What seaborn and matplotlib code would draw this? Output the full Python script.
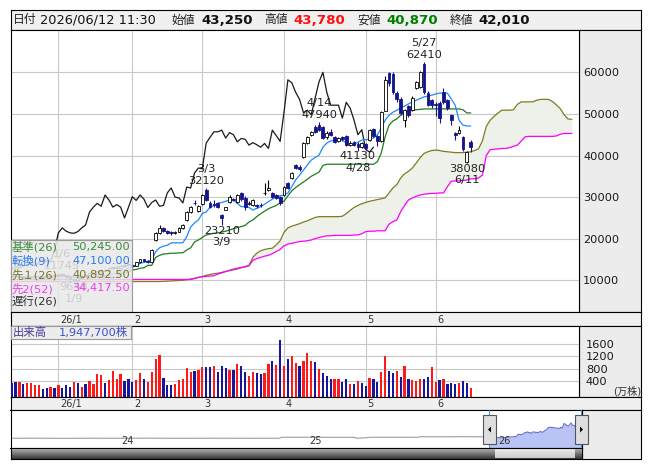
"""Daily candle chart with Ichimoku cloud, volume and a navigator strip (Japanese broker style)."""
import numpy as np
import matplotlib
matplotlib.use("Agg")
import matplotlib.pyplot as plt
from matplotlib.patches import Rectangle, Polygon
import seaborn as sns

# --- trading days 2025/12/15 .. 2026/06/12, index 0..118 ---
OPEN = [10900, 11000, 11100, 10700, 10500, 10700, 10900, 10800, 10600, 10800,
        10900, 11100, 11200, 11500, 11300, 10700, 10200, 10000, 10600, 11000,
        11300, 11700, 11600, 12200, 12400, 12300, 12900, 13100, 13000, 13500,
        13700, 13700, 13500, 14300, 15000, 14700, 14500, 19700, 21400, 22600,
        21900, 21600, 21300, 21700, 22600, 24500, 26400, 28700, 26600, 28400,
        31700, 28600, 28400, 28600, 25700, 27000, 28900, 29600, 28900, 31000,
        29800, 28300, 28100, 28000, 28200, 30900, 31800, 31000, 30500, 30000,
        30500, 33400, 34600, 37700, 37200, 39600, 43000, 44900, 46900, 47300,
        46900, 44500, 45600, 44400, 43500, 44400, 44700, 42600, 43300, 42800,
        42100, 42800, 43800, 46300, 44700, 43400, 50800, 59800, 59500, 55000,
        53600, 48500, 51800, 51000, 56200, 56500, 61900, 55100, 53300, 52300,
        52600, 55300, 53300, 49700, 45300, 45300, 44500, 38500, 43250]
HIGH = [11200, 11300, 11150, 10900, 10800, 11000, 11100, 10950, 10900, 11000,
        11200, 11300, 11600, 11745, 11350, 10800, 10400, 10700, 11200, 11500,
        11800, 12000, 12300, 12600, 12800, 13000, 13300, 13500, 13600, 13900,
        14200, 14000, 14400, 15100, 15200, 14900, 17500, 21600, 23300, 22800,
        22100, 21800, 21900, 22800, 23600, 26700, 27900, 29200, 28000, 30800,
        32120, 29000, 29300, 28800, 26000, 27700, 30400, 29900, 30800, 31300,
        30300, 29000, 29600, 28400, 28600, 33500, 34100, 31300, 30800, 30300,
        32700, 33700, 36100, 38000, 37600, 43300, 44800, 46000, 47300, 47940,
        47200, 46000, 46400, 44700, 44500, 44600, 45000, 43500, 43600, 43200,
        43300, 43000, 46300, 46500, 45000, 50800, 59000, 60200, 60000, 55500,
        54000, 51300, 52200, 54200, 58000, 60400, 62410, 55500, 53700, 52800,
        53200, 56120, 53700, 50000, 45600, 47000, 44800, 41000, 43780]
LOW = [10700, 10800, 10600, 10400, 10300, 10600, 10700, 10500, 10500, 10700,
       10800, 10900, 11000, 11200, 10600, 10000, 9648, 9900, 10500, 10800,
       11200, 11400, 11500, 12000, 12100, 12200, 12700, 12800, 12900, 13300,
       13600, 13300, 13400, 14200, 14500, 14200, 14300, 19500, 21200, 21500,
       21200, 21000, 21100, 21600, 22400, 24300, 26200, 28000, 26400, 28000,
       29000, 27300, 27600, 27400, 23210, 26800, 28700, 29000, 28700, 29000,
       27000, 28000, 27900, 27300, 27500, 30500, 31500, 29700, 29500, 28200,
       30200, 31900, 34400, 36700, 36300, 39400, 42800, 44600, 45400, 45800,
       43900, 44000, 44800, 43000, 43200, 43600, 42200, 42200, 42300, 41130,
       41800, 41400, 43600, 44500, 42200, 43200, 50600, 56800, 54700, 52800,
       49800, 46800, 49300, 50800, 55900, 56200, 54900, 51800, 51500, 49500,
       47800, 52400, 50900, 47400, 43700, 45100, 41200, 38080, 40870]
CLOSE = [11000, 11100, 10700, 10500, 10700, 10900, 10800, 10600, 10800, 10900,
         11100, 11200, 11500, 11300, 10700, 10200, 10000, 10600, 11000, 11300,
         11700, 11600, 12200, 12400, 12300, 12900, 13100, 13000, 13500, 13700,
         14000, 13500, 14300, 15000, 14700, 14500, 17300, 21400, 22600, 21800,
         21400, 21300, 21700, 22600, 23300, 26400, 27600, 28500, 27800, 30500,
         29300, 27600, 28200, 27600, 25000, 27500, 30100, 29200, 30500, 29500,
         27500, 28700, 29300, 27800, 28000, 31000, 32200, 30000, 29800, 28600,
         32400, 32200, 35800, 37000, 36800, 43000, 44400, 45700, 45700, 46100,
         44200, 45500, 45000, 43300, 44100, 43900, 42500, 43100, 42600, 42000,
         42900, 41700, 46100, 44800, 43400, 50400, 58200, 57500, 55200, 53500,
         50300, 50900, 49800, 53800, 57700, 60000, 55200, 52100, 52100, 52100,
         49000, 52800, 51400, 48500, 45000, 46200, 41500, 40800, 42010]

# volume in 万株 and bar colour (R = red, B = blue)
VOLUME = [334, 366, 366, 301, 334, 334, 280, 280, 150, 193,
          204, 193, 280, 193, 280, 226, 366, 334, 215, 312,
          410, 312, 626, 605, 334, 442, 735, 475, 637, 410,
          475, 388, 442, 659, 475, 388, 691, 1126, 1256, 518,
          280, 280, 301, 442, 475, 822, 691, 735, 768, 854,
          854, 854, 887, 691, 898, 822, 746, 768, 952, 898,
          691, 572, 691, 659, 626, 670, 952, 1060, 930, 1743,
          898, 1126, 1223, 984, 898, 1060, 1310, 1060, 1017, 800,
          659, 572, 475, 475, 475, 377, 475, 301, 301, 410,
          334, 247, 496, 475, 388, 691, 1223, 735, 659, 735,
          540, 898, 475, 442, 420, 475, 475, 529, 865, 388,
          442, 475, 301, 334, 301, 334, 410, 345, 194.77]
VOL_SIDE = list("BBRBRRRRBB" "RBRBBBRBRB" "RRRRBRRRRB" "BBRRBRRRRB"
                "BBRRRRRBRR" "BBRBBBRBRB" "BRRBBRRBRB" "RBRRBRRRBR"
                "BBBRRBBRBR" "BBRBBRRBBR" "BRBRRRBBRR" "BRBBBRBBR")

# Ichimoku lines, in thousands of yen
TENKAN = [11.0, 11.0, 11.0, 10.9, 10.9, 10.85, 10.85, 10.8, 10.75, 10.8,
          10.8, 10.9, 11.0, 11.1, 11.0, 10.7, 10.7, 10.7, 10.7, 10.7,
          10.7, 10.8, 10.9, 11.1, 11.2, 11.3, 11.5, 11.6, 12.2, 12.5,
          12.9, 13.1, 13.5, 14.1, 14.3, 14.6, 14.9, 16.9, 17.8, 18.2,
          18.4, 19.0, 19.0, 19.0, 19.0, 20.5, 22.8, 23.8, 24.5, 26.1,
          26.4, 27.6, 28.0, 28.5, 28.7, 29.0, 29.3, 29.3, 28.5, 27.7,
          27.7, 27.5, 26.9, 27.3, 27.7, 28.3, 28.9, 29.5, 30.1, 30.3,
          30.5, 31.0, 32.5, 34.1, 35.3, 36.5, 37.7, 38.9, 39.5, 40.1,
          42.0, 43.0, 43.5, 43.7, 43.7, 43.7, 43.0, 42.7, 42.5, 43.2,
          43.7, 43.8, 44.0, 44.2, 45.0, 46.6, 48.5, 49.7, 50.4, 50.9,
          51.4, 51.9, 52.4, 52.9, 53.3, 53.7, 54.1, 54.3, 54.5, 54.8,
          55.0, 55.0, 55.0, 53.6, 52.1, 48.5, 47.3, 47.1, 47.1]
KIJUN = [10.9, 10.9, 10.9, 10.9, 10.9, 10.9, 10.9, 10.9, 10.9, 10.9,
         10.9, 10.9, 10.9, 10.9, 10.9, 10.9, 10.7, 10.7, 10.7, 10.7,
         10.7, 10.7, 10.7, 10.7, 10.7, 10.7, 10.7, 10.7, 11.6, 11.8,
         12.0, 12.5, 12.6, 12.9, 13.0, 13.6, 13.6, 15.5, 16.0, 16.3,
         16.4, 16.5, 16.5, 16.6, 16.6, 17.3, 17.8, 19.2, 19.7, 20.3,
         20.9, 21.1, 21.3, 21.4, 21.6, 21.8, 22.1, 22.4, 22.7, 22.9,
         23.2, 24.0, 24.5, 25.3, 26.0, 26.6, 27.2, 27.6, 28.0, 28.6,
         29.0, 30.3, 31.5, 32.3, 33.0, 33.6, 34.3, 35.0, 35.5, 36.0,
         37.6, 37.9, 37.9, 37.9, 37.9, 37.9, 37.9, 37.9, 37.9, 37.9,
         37.9, 37.9, 37.9, 37.9, 38.5, 40.6, 44.5, 47.3, 48.3, 48.8,
         49.7, 50.4, 50.6, 50.9, 51.0, 51.1, 51.2, 51.2, 51.2, 51.2,
         51.2, 51.2, 51.2, 51.2, 51.2, 51.2, 51.0, 50.245, 50.245]
SENKOU_A = [9.7] * 39 + [
    9.75, 9.8, 9.85, 9.9, 9.95, 10.0, 10.1, 10.3, 10.5, 10.7, 10.9,
    11.2, 11.4, 11.6, 11.7, 11.9, 12.1, 12.3, 12.5, 12.7, 13.0,
    13.3, 13.6, 15.5, 16.5, 17.1, 17.4, 17.6, 17.7, 18.5, 19.5,
    21.5, 22.6, 23.0, 23.3, 23.6, 24.0, 24.3, 24.7, 25.1, 25.3,
    25.3, 25.3, 25.3, 25.3, 25.3, 25.4, 26.0, 26.8, 27.5, 28.0,
    28.4, 28.7, 29.0, 29.2, 29.4, 29.6, 29.8, 31.0, 32.2, 33.0,
    34.6, 35.6, 36.2, 37.0, 38.2, 39.5, 40.5, 40.9, 41.2, 41.3,
    41.2, 41.0, 40.9, 40.8, 40.7, 40.7, 40.7, 40.8, 40.8925, 41.2,
    41.6, 43.5, 47.0, 48.5, 49.4, 50.2, 50.9, 50.9, 50.9, 51.0,
    52.3, 52.9, 52.9, 52.9, 52.9, 53.3, 53.5, 53.5, 53.5, 53.0,
    52.2, 51.3, 49.8, 48.8, 48.7]
SENKOU_B = [10.2] * 47 + [
    10.4, 10.7, 10.85,
    10.95, 11.0, 11.1, 11.5, 11.8, 12.1, 12.4, 12.7, 12.9, 13.1,
    13.2, 13.5, 14.8, 15.2, 15.5, 15.8, 16.0, 16.4, 16.9, 17.4,
    18.3, 18.7, 18.9, 19.1, 19.3, 19.4, 19.5, 19.7, 20.0, 20.3,
    20.5, 20.7, 20.7, 20.8, 20.8, 20.8, 20.8, 20.8, 20.9, 20.9,
    21.2, 21.7, 21.8, 21.8, 21.9, 21.9, 21.9, 23.5, 24.1, 24.5,
    26.5, 28.0, 29.3, 29.8, 30.2, 30.5, 30.7, 30.8, 30.9, 30.9,
    31.0, 31.0, 32.5, 33.8, 33.9, 33.9, 34.0, 34.1, 34.4175, 34.4,
    34.6, 35.3, 40.0, 41.4, 41.5, 41.6, 41.7, 41.7, 41.9, 42.2,
    42.5, 43.5, 44.5, 44.6, 44.6, 44.6, 44.6, 44.6, 44.6, 44.6,
    44.7, 45.1, 45.3, 45.3, 45.3]
CHIKOU_SHIFT = 25

MONTH_IDX = [12, 31, 49, 70, 91, 109]
MONTH_LABELS = ["26/1", "2", "3", "4", "5", "6"]
PRICE_TICKS = [10000, 20000, 30000, 40000, 50000, 60000]
VOL_TICKS = [400, 800, 1200, 1600]

PEAK_IDX = [13, 50, 79, 106]
PEAK_DATES = ["1/6", "3/3", "4/14", "5/27"]
TROUGH_IDX = [16, 54, 89, 117]
TROUGH_DATES = ["1/9", "3/9", "4/28", "6/11"]

STAMP = "2026/06/12 11:30"

# navigator: long history before the shown window (year, price)
NAV_YEARS = [2023.42, 2023.55, 2023.7, 2023.85, 2024.0, 2024.15, 2024.3, 2024.5,
             2024.7, 2024.845, 2024.855, 2025.0, 2025.1, 2025.24, 2025.255, 2025.33,
             2025.45, 2025.575, 2025.59, 2025.7, 2025.8, 2025.91, 2025.953]
NAV_PRICES = [9000, 9300, 8800, 9200, 9000, 9400, 8900, 9200,
              9000, 9100, 12300, 12500, 12100, 12300, 9000, 12300,
              12400, 12300, 14300, 14100, 14500, 14300, 11000]
NAV_YEAR_POS = [2024, 2025, 2026]
NAV_YEAR_LABELS = ["24", "25", "26"]

# --- layout (pixels of a 653x470 canvas) ---
W, H = 653, 470
PX0, STEP = 11.7, 3.89          # x pixel of day 0, pixels per day
NAVY = "#14148c"
GRID = "#c8c8c8"
PANEL = "#ececec"
STRIP = "#f0f0f0"

sns.set_theme(style="white")
plt.rcParams["font.family"] = ["DejaVu Sans", "Noto Sans CJK JP"]
plt.rcParams["axes.unicode_minus"] = False

fig = plt.figure(figsize=(W / 100, H / 100), dpi=100)
fig.patch.set_facecolor("white")


def box(x0, y0, x1, y1):
    return [x0 / W, 1 - y1 / H, (x1 - x0) / W, (y1 - y0) / H]


def xl(px):
    return (px - PX0) / STEP


def panel(x0, y0, x1, y1, color="white", edge="black"):
    a = fig.add_axes(box(x0, y0, x1, y1))
    a.set_facecolor(color)
    a.set_xticks([])
    a.set_yticks([])
    for s in a.spines.values():
        s.set_color(edge)
        s.set_linewidth(0.8)
    return a


def ftext(x, y, s, **kw):
    kw.setdefault("va", "center")
    fig.text(x / W, 1 - y / H, s, **kw)


idx = np.arange(len(CLOSE))
o, h, l, c = (np.array(v, dtype=float) for v in (OPEN, HIGH, LOW, CLOSE))

# ---------------- header ----------------
panel(10.5, 10, 641, 29.5, STRIP)
ftext(12.5, 20, "日付", fontsize=8.5, color="#222")
ftext(40, 20, STAMP, fontsize=9.3, color="#111")
head = [("始値", OPEN[-1], "#111"), ("高値", HIGH[-1], "#ff1010"),
        ("安値", LOW[-1], "#008000"), ("終値", CLOSE[-1], "#111")]
for k, (lab, val, col) in enumerate(head):
    x = 172 + 92.5 * k
    ftext(x, 20, lab, fontsize=8.5, color="#222")
    ftext(x + 29, 20, f"{val:,}", fontsize=9.6, fontweight="bold", color=col)

# ---------------- price panel ----------------
panel(579, 29.5, 641, 312.3, PANEL)
ax = fig.add_axes(box(11, 29.5, 579, 312.3))
ax.set_facecolor("white")
ax.set_xlim(xl(11), xl(579))
ax.set_ylim(2300, 70300)
ax.set_xticks(MONTH_IDX)
ax.set_yticks(PRICE_TICKS)
ax.grid(True, color=GRID, lw=0.8)
ax.set_axisbelow(True)
ax.yaxis.tick_right()
ax.tick_params(axis="y", length=0, pad=3, labelsize=8.2, labelcolor="#1a1a1a")
ax.tick_params(axis="x", length=0, labelbottom=False)
for s in ax.spines.values():
    s.set_color("black")
    s.set_linewidth(0.8)

sx = np.arange(len(SENKOU_A))
sa = np.array(SENKOU_A) * 1000
sb = np.array(SENKOU_B) * 1000
ax.fill_between(sx, sa, sb, color="#edf1ea", lw=0, zorder=1)
sns.lineplot(x=sx, y=sa, ax=ax, color="#7f7a1e", lw=0.9, zorder=2)
sns.lineplot(x=sx, y=sb, ax=ax, color="#ff00ff", lw=0.9, zorder=2)
sns.lineplot(x=idx - CHIKOU_SHIFT, y=c, ax=ax, color="#1a1a1a", lw=0.9, zorder=3)
sns.lineplot(x=idx, y=np.array(KIJUN) * 1000, ax=ax, color="#1f7a1f", lw=0.9, zorder=4)
sns.lineplot(x=idx, y=np.array(TENKAN) * 1000, ax=ax, color="#1e88ff", lw=0.9, zorder=4)

up = c >= o
ax.vlines(idx, l, h, colors=np.where(up, "black", NAVY), lw=0.8, zorder=5)
lo = np.minimum(o, c)
hb = np.maximum(np.abs(c - o), 130)
ax.bar(idx[up], hb[up], bottom=lo[up], width=0.72, color="white",
       edgecolor="black", lw=0.6, zorder=6)
ax.bar(idx[~up], hb[~up], bottom=lo[~up], width=0.72, color=NAVY,
       edgecolor=NAVY, lw=0.6, zorder=6)

for i, d in zip(PEAK_IDX, PEAK_DATES):
    ax.annotate(f"{HIGH[i]}", (i, HIGH[i]), xytext=(0, 7.5), textcoords="offset pixels",
                ha="center", va="center", fontsize=8.2, color="#222", zorder=8)
    ax.annotate(d, (i, HIGH[i]), xytext=(0, 19.5), textcoords="offset pixels",
                ha="center", va="center", fontsize=8.2, color="#222", zorder=8)
for i, d in zip(TROUGH_IDX, TROUGH_DATES):
    ax.annotate(f"{LOW[i]}", (i, LOW[i]), xytext=(0, -5.5), textcoords="offset pixels",
                ha="center", va="center", fontsize=8.2, color="#222", zorder=8)
    ax.annotate(d, (i, LOW[i]), xytext=(0, -17), textcoords="offset pixels",
                ha="center", va="center", fontsize=8.2, color="#222", zorder=8)

# indicator legend (translucent box over the lower left corner)
lg = panel(10.5, 239.5, 131.5, 312.3, "#e8e8e8", edge="#9a9a9a")
lg.patch.set_alpha(0.86)
rows = [("基準(26)", KIJUN[-1] * 1000, "#3a8a3a"),
        ("転換(9)", TENKAN[-1] * 1000, "#2a7af0"),
        ("先１(26)", SENKOU_A[len(CLOSE) - 1] * 1000, "#7a7428"),
        ("先2(52)", SENKOU_B[len(CLOSE) - 1] * 1000, "#f03cf0"),
        ("遅行(26)", None, "#303030")]
for k, (lab, val, col) in enumerate(rows):
    y = 247 + 13.8 * k
    ftext(11.5, y, lab, fontsize=8.2, color=col)
    if val is not None:
        ftext(130, y, f"{val:,.2f}", fontsize=8.2, color=col, ha="right")

# date strip under the price panel
ds = panel(10.5, 312.3, 641, 325.5, STRIP)
ds.set_xlim(xl(10.5), xl(641))
ds.set_ylim(0, 1)
for m, lab in zip(MONTH_IDX, MONTH_LABELS):
    ds.text(m + 0.4, 0.45, lab, ha="left", va="center", fontsize=7, color="#333")

# ---------------- volume panel ----------------
panel(579, 325.5, 641, 397.3, PANEL)
av = fig.add_axes(box(11, 325.5, 579, 397.3))
av.set_facecolor("white")
av.set_xlim(xl(11), xl(579))
av.set_ylim(-120, 2200)
av.set_xticks(MONTH_IDX)
av.set_yticks(VOL_TICKS)
av.grid(True, color=GRID, lw=0.8)
av.set_axisbelow(True)
av.yaxis.tick_right()
av.tick_params(axis="y", length=0, pad=5, labelsize=8.2, labelcolor="#1a1a1a")
av.tick_params(axis="x", length=0, labelbottom=False)
for s in av.spines.values():
    s.set_color("black")
    s.set_linewidth(0.8)
vol = np.array(VOLUME, dtype=float)
vcol = ["#ff1a1a" if s == "R" else "#16169a" for s in VOL_SIDE]
floor = av.get_ylim()[0]
av.bar(idx, vol - floor, bottom=floor, width=0.58, color=vcol, lw=0, zorder=3)
ftext(613, 391, "(万株)", fontsize=7.3, color="#333")

lv = panel(10.5, 325.5, 131, 339, PANEL, edge="#9a9a9a")
ftext(12.5, 332.3, "出来高", fontsize=8.2, color="#4a3a9a")
ftext(128.5, 332.3, f"{VOLUME[-1] * 10000:,.0f}株", fontsize=8.2, color="#3c50c8", ha="right")

ds2 = panel(10.5, 397.3, 641, 410, STRIP)
ds2.set_xlim(xl(10.5), xl(641))
ds2.set_ylim(0, 1)
for m, lab in zip(MONTH_IDX, MONTH_LABELS):
    ds2.text(m + 0.4, 0.45, lab, ha="left", va="center", fontsize=7, color="#333")

# ---------------- navigator ----------------
panel(582, 410, 641, 459, PANEL)
an = panel(10.5, 410, 582, 448.3, "white")
an.set_xlim(2023.42, 2026.447)
an.set_ylim(-24300, 103300)
sns.lineplot(x=NAV_YEARS, y=NAV_PRICES, ax=an, color="#a8a8a8", lw=0.9)
sel_start, sel_end = 2025.953, 2026.443
sel_years = sel_start + idx * (sel_end - sel_start) / idx[-1]
an.fill_between(sel_years, c, -24300, color="#b9c3f5", lw=0, zorder=1)
sns.lineplot(x=sel_years, y=c, ax=an, color="#6b73c9", lw=0.8, zorder=2)
for yr in (sel_start, sel_end):
    an.axvline(yr, color="#3aa0e8", lw=0.8, zorder=3)
for yr, lab in zip(NAV_YEAR_POS, NAV_YEAR_LABELS):
    an.text(yr + 0.004, 1000, lab, ha="left", va="center", fontsize=7, color="#333", zorder=4)

# scroll bar
sbar = panel(10.5, 448.3, 582, 459, "#808080")
grad = np.linspace(0.72, 0.22, 24)[:, None]
sbar.imshow(grad, aspect="auto", cmap="gray", vmin=0, vmax=1, extent=(0, 1, 0, 1))
sbar.set_xlim(0, 1)
sbar.set_ylim(0, 1)
t0 = (495 - 10.5) / (582 - 10.5)
t1 = (575 - 10.5) / (582 - 10.5)
sbar.imshow(np.linspace(0.93, 0.8, 24)[:, None], aspect="auto", cmap="gray",
            vmin=0, vmax=1, extent=(t0, t1, 0.05, 0.95))
sbar.set_xlim(0, 1)
sbar.set_ylim(0, 1)


def fig_poly(pts, **kw):
    fig.add_artist(Polygon([(x / W, 1 - y / H) for x, y in pts],
                           transform=fig.transFigure, **kw))


for x0, x1, tip in ((483, 496, -1), (575, 588, 1)):
    fig.add_artist(Rectangle((x0 / W, 1 - 444 / H), (x1 - x0) / W, 29 / H,
                             transform=fig.transFigure, facecolor="#dedede",
                             edgecolor="#555555", lw=0.8, zorder=5))
    cx = (x0 + x1) / 2
    fig_poly([(cx + 1.5 * tip, 429.5), (cx - 1.5 * tip, 426.5), (cx - 1.5 * tip, 432.5)],
             facecolor="black", edgecolor="none", zorder=6)

fig.savefig("out.png", dpi=100)
